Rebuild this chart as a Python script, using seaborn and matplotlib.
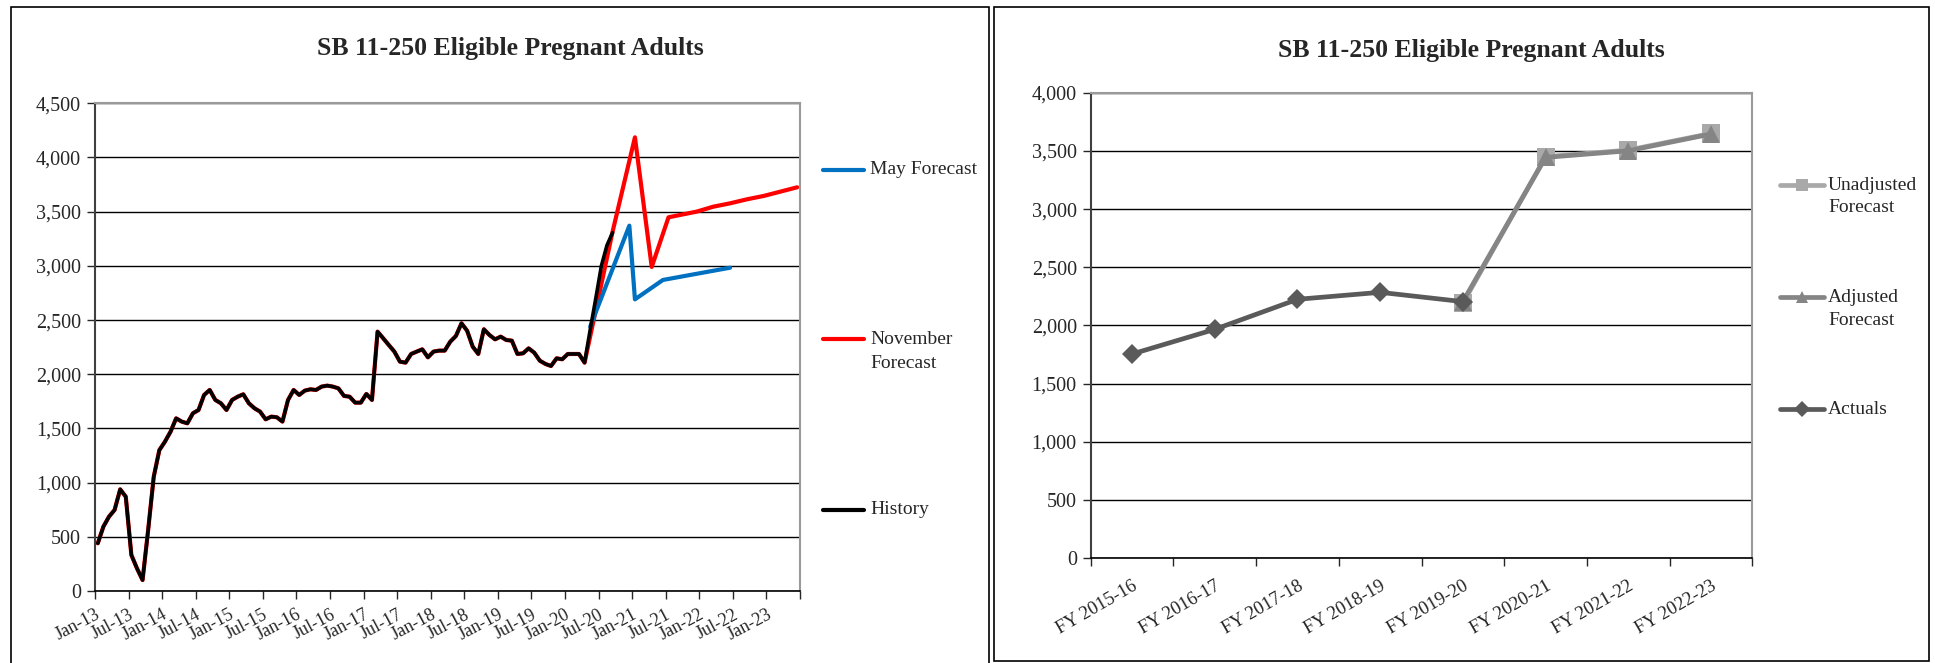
"""SB 11-250 Eligible Pregnant Adults - monthly and fiscal-year charts."""

import matplotlib
matplotlib.use('Agg')
import matplotlib.pyplot as plt
import seaborn as sns
import numpy as np
import pandas as pd
from matplotlib.lines import Line2D
from matplotlib.patches import Rectangle
from matplotlib.ticker import FuncFormatter

# ---- left chart: monthly caseload ----
history_start = '2013-01'
history = [440, 594, 686, 748, 938, 870, 332, 209, 101, 563,
           1055, 1300, 1378, 1470, 1593, 1563, 1547, 1640, 1670, 1809,
           1855, 1763, 1732, 1670, 1763, 1793, 1815, 1732, 1686, 1655,
           1584, 1609, 1603, 1563, 1763, 1855, 1809, 1849, 1861, 1855,
           1886, 1895, 1886, 1870, 1800, 1793, 1738, 1738, 1818, 1763,
           2393, 2332, 2270, 2209, 2116, 2107, 2187, 2209, 2230, 2156,
           2209, 2218, 2218, 2301, 2353, 2470, 2402, 2255, 2187, 2415,
           2362, 2322, 2347, 2316, 2310, 2187, 2193, 2239, 2199, 2125,
           2095, 2076, 2147, 2138, 2187, 2187, 2187, 2107, 2410, 2700,
           3000, 3190, 3306]

may_months = ['2020-05', '2020-12', '2021-01', '2021-06', '2022-06']
may_values = [2439, 3371, 2691, 2870, 2983]

nov_months = ['2020-09', '2021-01', '2021-04', '2021-07', '2021-09', '2021-12',
              '2022-03', '2022-06', '2022-09', '2022-12', '2023-03', '2023-06']
nov_values = [3315, 4186, 2990, 3448, 3469, 3500, 3546, 3577, 3614, 3645, 3685, 3725]
nov_history_end = '2020-04'

month_labels = ['Jan-13', 'Jul-13', 'Jan-14', 'Jul-14', 'Jan-15', 'Jul-15',
                'Jan-16', 'Jul-16', 'Jan-17', 'Jul-17', 'Jan-18', 'Jul-18',
                'Jan-19', 'Jul-19', 'Jan-20', 'Jul-20', 'Jan-21', 'Jul-21',
                'Jan-22', 'Jul-22', 'Jan-23']

# ---- right chart: fiscal years ----
fiscal_years = ['FY 2015-16', 'FY 2016-17', 'FY 2017-18', 'FY 2018-19',
                'FY 2019-20', 'FY 2020-21', 'FY 2021-22', 'FY 2022-23']
actuals = [1755, 1967, 2225, 2285, 2205]
unadjusted = [2190, 3450, 3507, 3650]
adjusted = [2205, 3444, 3501, 3645]

W, H = 1935, 663
sns.set_style('white')
plt.rcParams['font.family'] = ['Liberation Serif', 'DejaVu Serif']


def month_pos(months):
    p = pd.PeriodIndex(months, freq='M')
    return (p.year - 2013) * 12 + (p.month - 1) + 0.5


def fx(px):
    return px / W


def fy(py):
    return 1 - py / H


def style_axes(ax):
    ax.yaxis.grid(True, color='black', lw=1)
    ax.set_axisbelow(True)
    ax.set_xlabel('')
    ax.set_ylabel('')
    for side in ['top', 'right']:
        ax.spines[side].set_color('#9a9a9a')
        ax.spines[side].set_linewidth(1.5)
    ax.spines['left'].set_color('#404040')
    ax.spines['left'].set_linewidth(1.5)
    ax.spines['bottom'].set_color('black')
    ax.spines['bottom'].set_linewidth(1.2)


fig = plt.figure(figsize=(W / 100, H / 100), dpi=100)

# panel borders
fig.add_artist(Rectangle((fx(11), fy(670)), fx(989 - 11), (670 - 7) / H,
                         transform=fig.transFigure, fill=False, ec='black', lw=1.2))
fig.add_artist(Rectangle((fx(994), fy(661)), fx(1929 - 994), (661 - 7) / H,
                         transform=fig.transFigure, fill=False, ec='black', lw=1.2))

comma = FuncFormatter(lambda v, _: f'{int(v):,}')

# ================= left chart =================
ax1 = fig.add_axes([fx(95), fy(591), fx(800 - 95), (591 - 103.3) / H])

hist_months = pd.period_range(history_start, periods=len(history), freq='M').strftime('%Y-%m')
hist_df = pd.DataFrame({'x': month_pos(hist_months), 'y': history})

nov_base = hist_df[hist_df['x'] <= month_pos([nov_history_end])[0]]
nov_df = pd.concat([nov_base, pd.DataFrame({'x': month_pos(nov_months), 'y': nov_values})])
may_df = pd.DataFrame({'x': month_pos(may_months), 'y': may_values})

sns.lineplot(data=nov_df, x='x', y='y', ax=ax1, color='#FF0000', lw=3.0)
sns.lineplot(data=may_df, x='x', y='y', ax=ax1, color='#0070C0', lw=3.0)
sns.lineplot(data=hist_df, x='x', y='y', ax=ax1, color='black', lw=2.6)

ax1.set_xlim(0, 126)
ax1.set_ylim(0, 4500)
ax1.set_yticks(np.arange(0, 4501, 500))
ax1.yaxis.set_major_formatter(comma)
ax1.set_xticks(np.arange(0, 127, 6))
ax1.set_xticklabels(month_labels + [''], rotation=28, ha='right',
                    rotation_mode='anchor', fontsize=13)
ax1.tick_params(axis='y', labelsize=14.5, length=6, width=1, direction='out', left=True, pad=4)
ax1.tick_params(axis='x', length=6, width=1, direction='out', bottom=True, pad=5)
style_axes(ax1)
fig.text(fx(510), fy(49), 'SB 11-250 Eligible Pregnant Adults', ha='center', va='center',
         fontsize=18.5, fontweight='bold')

# left legend
left_legend = [('May Forecast', '#0070C0', 170), ('November\nForecast', '#FF0000', 339),
               ('History', 'black', 510)]
for label, color, ypix in left_legend:
    fig.add_artist(Line2D([fx(823), fx(864)], [fy(ypix), fy(ypix)], color=color, lw=3.0,
                          transform=fig.transFigure))
    for k, part in enumerate(label.split('\n')):
        fig.text(fx(870), fy(ypix + 24 * k), part, ha='left', va='center', fontsize=14)

# ================= right chart =================
ax2 = fig.add_axes([fx(1090.7), fy(558.3), fx(1752.3 - 1090.7), (558.3 - 92.7) / H])

n_fy = len(fiscal_years)
unadj_df = pd.DataFrame({'x': np.arange(n_fy - len(unadjusted), n_fy) + 0.5, 'y': unadjusted})
adj_df = pd.DataFrame({'x': np.arange(n_fy - len(adjusted), n_fy) + 0.5, 'y': adjusted})
act_df = pd.DataFrame({'x': np.arange(len(actuals)) + 0.5, 'y': actuals})

sns.lineplot(data=unadj_df, x='x', y='y', ax=ax2, color='#A9A9A9', lw=3.4,
             marker='s', markersize=13, markeredgewidth=0)
sns.lineplot(data=adj_df, x='x', y='y', ax=ax2, color='#858585', lw=3.4,
             marker='^', markersize=13, markeredgewidth=0)
sns.lineplot(data=act_df, x='x', y='y', ax=ax2, color='#5a5a5a', lw=3.4,
             marker='D', markersize=10.5, markeredgewidth=0)

ax2.set_xlim(0, n_fy)
ax2.set_ylim(0, 4000)
ax2.set_yticks(np.arange(0, 4001, 500))
ax2.yaxis.set_major_formatter(comma)
ax2.set_xticks(np.arange(n_fy) + 0.5)
ax2.set_xticklabels(fiscal_years, rotation=30, ha='right', rotation_mode='anchor', fontsize=13.5)
ax2.set_xticks(np.arange(0, n_fy + 1), minor=True)
ax2.tick_params(axis='x', which='major', length=0, pad=14)
ax2.tick_params(axis='x', which='minor', length=6, width=1, direction='out', bottom=True)
ax2.tick_params(axis='y', labelsize=14.5, length=6, width=1, direction='out', left=True, pad=4)
style_axes(ax2)
fig.text(fx(1471), fy(50), 'SB 11-250 Eligible Pregnant Adults', ha='center', va='center',
         fontsize=18.5, fontweight='bold')

# right legend
right_legend = [('Unadjusted\nForecast', '#A9A9A9', 's', 185),
                ('Adjusted\nForecast', '#858585', '^', 297),
                ('Actuals', '#5a5a5a', 'D', 409)]
for label, color, mk, ypix in right_legend:
    fig.add_artist(Line2D([fx(1780), fx(1824)], [fy(ypix), fy(ypix)], color=color, lw=3.4,
                          transform=fig.transFigure))
    fig.add_artist(Line2D([fx(1802)], [fy(ypix)], color=color, marker=mk, markersize=8.5,
                          markeredgewidth=0, transform=fig.transFigure))
    for k, part in enumerate(label.split('\n')):
        fig.text(fx(1828), fy(ypix + 23 * k), part, ha='left', va='center', fontsize=14)

plt.savefig('out.png', dpi=100)
plt.close()
